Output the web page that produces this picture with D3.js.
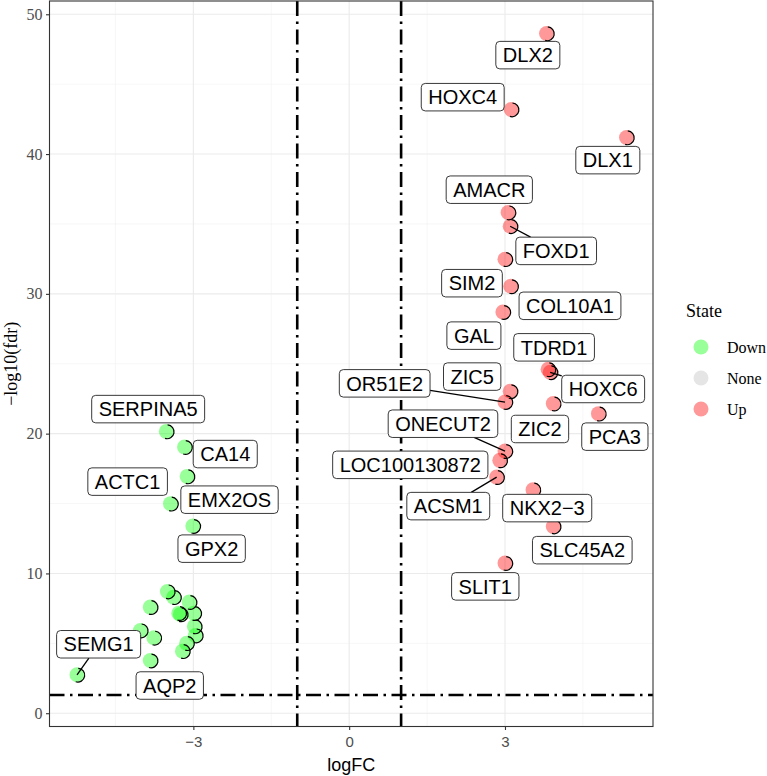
<!DOCTYPE html>
<html><head><meta charset="utf-8">
<script src="https://cdn.jsdelivr.net/npm/d3@7"></script>
<style>body{margin:0;background:#fff}</style>
</head><body>
<svg id="c" width="767" height="776"></svg>
<script>
// ---------------- data ----------------
const genes = ["DLX2","HOXC4","DLX1","AMACR","FOXD1","SIM2","COL10A1","GAL","TDRD1","HOXC6",
  "ZIC5","OR51E2","ZIC2","PCA3","ONECUT2","LOC100130872","ACSM1","NKX2\u22123","SLC45A2","SLIT1",
  "SERPINA5","CA14","ACTC1","EMX2OS","GPX2","","","","","","","","","","","","","","AQP2","SEMG1"];
const logFC = [3.80,3.12,5.34,3.06,3.10,3.00,3.11,2.96,3.83,3.87,
  3.10,3.00,3.93,4.80,3.00,2.90,2.84,3.54,3.93,3.00,
  -3.52,-3.17,-3.12,-3.44,-3.01,-3.50,-3.38,-3.83,-3.08,-3.28,-3.25,-2.99,-2.98,-4.02,-3.76,-2.96,-3.13,-3.21,-3.83,-5.24];
const negLog10FDR = [48.63,43.19,41.19,35.82,34.84,32.48,30.54,28.70,24.60,24.39,
  23.03,22.26,22.15,21.43,18.75,18.09,16.89,15.99,13.36,10.74,
  20.16,19.04,16.94,14.99,13.39,8.71,8.30,7.59,7.95,7.16,7.07,7.16,6.21,5.92,5.40,5.56,5.01,4.44,3.77,2.75];
const state = logFC.map(v => v > 0 ? "Up" : "Down");
const stateLevels = ["Down","None","Up"];
const xTicks = [-3, 0, 3];
const yTicks = [0, 10, 20, 30, 40, 50];
const fcCut = [-1, 1];
const fdrCut = [1.3];

// ---------------- layout (label placement, px offsets from point) ----------------
const labelOffset = {
  "DLX2":[-18.7,21.7],"HOXC4":[-48.5,-12.3],"DLX1":[-18.7,22.7],"AMACR":[-18.8,-22.8],
  "FOXD1":[46,24.7],"SIM2":[-33,24],"COL10A1":[59.3,19.5],"GAL":[-29,23.6],"TDRD1":[6,-22],
  "HOXC6":[53,16.7],"ZIC5":[-38,-14.7],"OR51E2":[-120.3,-18.7],"ZIC2":[-13.3,25.4],
  "PCA3":[16.4,23],"ONECUT2":[-62,-27.4],"LOC100130872":[-89.5,4.5],"ACSM1":[-48.4,29],
  "NKX2\u22123":[14.2,18.4],"SLC45A2":[29,23.7],"SLIT1":[-19.7,23.3],
  "SERPINA5":[-18.2,-22.3],"CA14":[40.7,7],"ACTC1":[-59.5,5.2],"EMX2OS":[59,-4],
  "GPX2":[18.8,22.6],"SEMG1":[21.6,-30.5],"AQP2":[19.5,25]
};
const withSegment = new Set(["FOXD1","HOXC6","OR51E2","ONECUT2","ACSM1","SEMG1"]);

const fillColor = {Down:"#00ff00", None:"#bebebe", Up:"#ff0000"};
const pointAlpha = 0.4;

// ---------------- drawing ----------------
const svg = d3.select("#c");
const P = {l:49.5, r:653, t:1, b:726.5};
const x = d3.scaleLinear().domain([-5.77, 5.85]).range([P.l, P.r]);
const y = d3.scaleLinear().domain([-0.95, 50.95]).range([P.b, P.t]);

svg.append("rect").attr("width",767).attr("height",776).attr("fill","#fff");

// grid
const g = svg.append("g");
const xMinor = [-4.5,-1.5,1.5,4.5], yMinor = [5,15,25,35,45];
g.selectAll(".xm").data(xMinor).join("line").attr("x1",d=>x(d)).attr("x2",d=>x(d))
  .attr("y1",P.t).attr("y2",P.b).attr("stroke","#f2f2f2").attr("stroke-width",0.6);
g.selectAll(".ym").data(yMinor).join("line").attr("y1",d=>y(d)).attr("y2",d=>y(d))
  .attr("x1",P.l).attr("x2",P.r).attr("stroke","#f2f2f2").attr("stroke-width",0.6);
g.selectAll(".xM").data(xTicks).join("line").attr("x1",d=>x(d)).attr("x2",d=>x(d))
  .attr("y1",P.t).attr("y2",P.b).attr("stroke","#ebebeb").attr("stroke-width",1.1);
g.selectAll(".yM").data(yTicks).join("line").attr("y1",d=>y(d)).attr("y2",d=>y(d))
  .attr("x1",P.l).attr("x2",P.r).attr("stroke","#ebebeb").attr("stroke-width",1.1);

// threshold lines
const dash = "15,5.5,2.5,5.5";
svg.selectAll(".vcut").data(fcCut).join("line").attr("x1",d=>x(d)).attr("x2",d=>x(d))
  .attr("y1",P.t).attr("y2",P.b).attr("stroke","#000").attr("stroke-width",2.6).attr("stroke-dasharray",dash);
svg.selectAll(".hcut").data(fdrCut).join("line").attr("y1",d=>y(d)).attr("y2",d=>y(d))
  .attr("x1",P.l).attr("x2",P.r).attr("stroke","#000").attr("stroke-width",2.6).attr("stroke-dasharray",dash);

// points
const pts = genes.map((gname,i)=>({g:gname, x:logFC[i], y:negLog10FDR[i], s:state[i]}));
const R = 7.5;
svg.append("g").selectAll("circle").data(pts).join("circle")
  .attr("cx",d=>x(d.x)).attr("cy",d=>y(d.y)).attr("r",R)
  .attr("fill",d=>fillColor[d.s]).attr("fill-opacity",pointAlpha);
const arc = d3.arc().innerRadius(R-1.2).outerRadius(R).startAngle(0.02*Math.PI).endAngle(1.1*Math.PI);
svg.append("g").selectAll("path").data(pts).join("path")
  .attr("transform",d=>`translate(${x(d.x)+0.8},${y(d.y)+0.4})`)
  .attr("d",arc()).attr("fill","#000");

// labels
const lg = svg.append("g");
const FS = 20, PADX = 7, BH = 27.5;
pts.filter(d=>d.g && labelOffset[d.g]).forEach(d=>{
  const px = x(d.x), py = y(d.y);
  const [dx,dy] = labelOffset[d.g];
  const cx = px+dx, cy = py+dy;
  const grp = lg.append("g");
  const seg = grp.append("line");
  const rect = grp.append("rect");
  const t = grp.append("text").text(d.g).attr("x",cx).attr("y",cy+7.2)
    .attr("text-anchor","middle").attr("font-family","'Liberation Sans', Arial, sans-serif")
    .attr("font-size",FS).attr("fill","#000");
  const tw = t.node().getComputedTextLength();
  const bw = tw + 2*PADX;
  rect.attr("x",cx-bw/2).attr("y",cy-BH/2).attr("width",bw).attr("height",BH)
    .attr("rx",4).attr("fill","#fff").attr("stroke","#222").attr("stroke-width",0.9);
  if (withSegment.has(d.g)) {
    const vx = cx-px, vy = cy-py;
    const tx = Math.abs(vx) > 1e-6 ? (Math.abs(vx)-bw/2)/Math.abs(vx) : -1;
    const ty = Math.abs(vy) > 1e-6 ? (Math.abs(vy)-BH/2)/Math.abs(vy) : -1;
    const tcl = Math.max(0, tx, ty);
    seg.attr("x1",px).attr("y1",py).attr("x2",px+vx*tcl).attr("y2",py+vy*tcl)
      .attr("stroke","#000").attr("stroke-width",1.3);
  } else seg.remove();
});

// panel border
svg.append("rect").attr("x",P.l).attr("y",P.t).attr("width",P.r-P.l).attr("height",P.b-P.t)
  .attr("fill","none").attr("stroke","#333").attr("stroke-width",1.1);

// axes
const ax = svg.append("g").attr("transform",`translate(0,${P.b})`)
  .call(d3.axisBottom(x).tickValues(xTicks).tickSize(3.5).tickFormat(d=>d<0?"\u2212"+Math.abs(d):d));
ax.select(".domain").remove();
ax.selectAll("line").attr("stroke","#333").attr("stroke-width",1.1);
ax.selectAll("text").attr("fill","#4d4d4d").attr("font-size",15).attr("y",6).attr("dy","0.95em")
  .attr("font-family","'Liberation Sans Narrow','Liberation Sans',Arial,sans-serif");

const ay = svg.append("g").attr("transform",`translate(${P.l},0)`)
  .call(d3.axisLeft(y).tickValues(yTicks).tickSize(3.5));
ay.select(".domain").remove();
ay.selectAll("line").attr("stroke","#333").attr("stroke-width",1.1);
ay.selectAll("text").attr("fill","#4d4d4d").attr("font-size",16).attr("x",-7)
  .attr("font-family","'Liberation Serif','Times New Roman',serif");

// axis titles
svg.append("text").attr("x",(P.l+P.r)/2).attr("y",771).attr("text-anchor","middle")
  .attr("font-size",18).attr("font-family","'Liberation Sans Narrow','Liberation Sans',Arial,sans-serif")
  .attr("fill","#000").text("logFC");
svg.append("text").attr("transform",`translate(17,${(P.t+P.b)/2}) rotate(-90)`).attr("text-anchor","middle")
  .attr("font-size",18).attr("font-family","'Liberation Serif','Times New Roman',serif")
  .attr("fill","#000").text("\u2212log10(fdr)");

// legend
const leg = svg.append("g");
leg.append("text").attr("x",686).attr("y",317).attr("font-size",18)
  .attr("font-family","'Liberation Serif','Times New Roman',serif").text("State");
const ly = [347, 378, 409];
stateLevels.forEach((s,i)=>{
  leg.append("circle").attr("cx",701).attr("cy",ly[i]).attr("r",7.5)
    .attr("fill",fillColor[s]).attr("fill-opacity",pointAlpha);
  leg.append("text").attr("x",727).attr("y",ly[i]+5.5).attr("font-size",16)
    .attr("font-family","'Liberation Serif','Times New Roman',serif").text(s);
});
</script>
</body></html>
